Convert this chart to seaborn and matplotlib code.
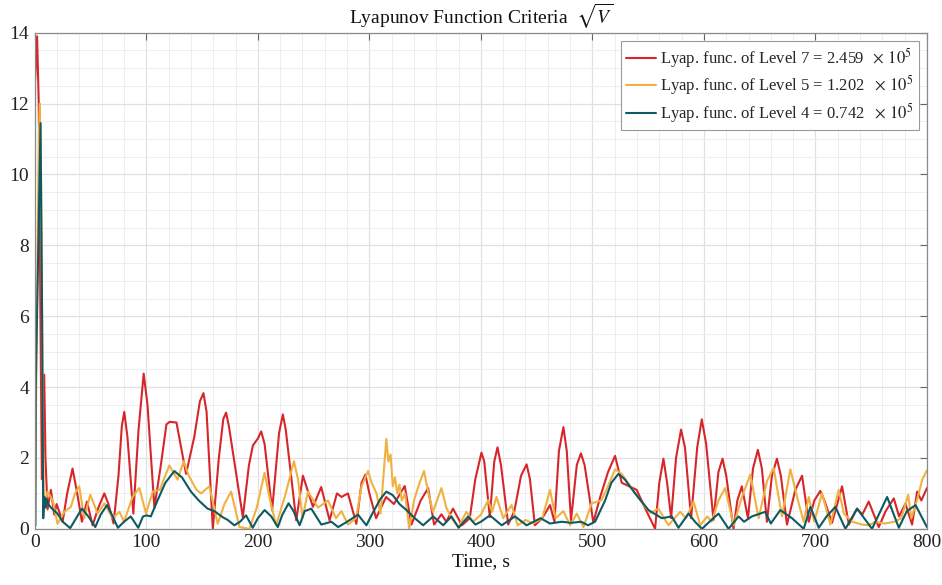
import numpy as np
import pandas as pd
import seaborn as sns
import matplotlib
matplotlib.use("Agg")
import matplotlib.pyplot as plt
from matplotlib.ticker import MultipleLocator

# --- series: time (s) and sqrt(V) samples ---------------------------------
red_t = [0, 2, 3.5, 5, 6.3, 7.3, 8.4, 9.5, 11.4, 14.4, 17.4, 19.5, 24.9, 29, 33.8, 38,
         42.2, 46.7, 51.8, 57, 62.3, 66, 70.6, 75, 78, 80.2, 83, 88.3, 93, 97.6, 101,
         107.2, 113, 118, 121, 127, 130, 135.6, 143, 148, 151.2, 154, 159.6, 165, 169,
         171.5, 174, 186.5, 192, 195.5, 200, 203, 206, 212.8, 219, 222.4, 225, 234.4,
         240.4, 249.4, 256.8, 264.3, 270.9, 275, 280.8, 288.3, 293, 296.4, 300, 306,
         315, 322, 331.7, 337.7, 346, 352.7, 358, 364.6, 369, 375, 383, 390, 395, 400.5,
         403, 408, 412, 414.9, 418, 424.5, 430, 436, 441, 444, 448.4, 455, 462, 466,
         470, 474, 477, 480.8, 486, 489.7, 493, 500.8, 507, 514, 520.3, 526.3, 533,
         539.7, 547, 556.2, 560, 563.7, 567, 570.6, 575, 579.5, 583, 588.5, 594, 598.1,
         602, 608.6, 613, 616.7, 620, 626.5, 630, 634, 639.5, 644, 648.4, 652, 656.5,
         661, 665.5, 669, 674.5, 682, 688, 694, 699, 704.4, 708, 714.9, 723.9, 730,
         737.3, 742, 747.8, 756.8, 763, 770.3, 775, 780.7, 786.7, 791.2, 795, 800]
red_v = [12.5, 13.9, 12.0, 6.0, 1.4, 1.8, 4.35, 2.0, 0.55, 1.1, 0.4, 0.7, 0.2, 1.0, 1.7, 1.0,
         0.2, 0.77, 0.1, 0.6, 1.0, 0.7, 0.15, 1.5, 2.9, 3.3, 2.6, 0.43, 2.8, 4.38, 3.5,
         0.6, 1.8, 2.95, 3.02, 3.0, 2.5, 1.55, 2.6, 3.6, 3.83, 3.3, 0.0, 2.0, 3.1,
         3.28, 2.9, 0.33, 1.8, 2.35, 2.55, 2.75, 2.4, 0.53, 2.7, 3.23, 2.8, 0.24,
         1.5, 0.62, 1.18, 0.24, 1.0, 0.9, 1.0, 0.14, 1.3, 1.53, 1.0, 0.3,
         0.9, 0.7, 1.21, 0.12, 0.8, 1.15, 0.12, 0.41, 0.2, 0.57, 0.1, 0.3, 1.4, 2.15,
         1.9, 0.33, 1.9, 2.3, 1.8, 0.12, 0.5, 1.5, 1.82, 1.4, 0.1, 0.3, 0.67, 0.2,
         2.2, 2.87, 2.2, 0.24, 1.8, 2.13, 1.8, 0.18, 0.9, 1.6, 2.06, 1.3, 1.2,
         1.1, 0.6, 0.0, 1.3, 1.98, 1.3, 0.3, 2.0, 2.8, 2.3, 0.3, 2.3, 3.09,
         2.4, 0.25, 1.6, 1.98, 1.5, 0.0, 0.8, 1.2, 0.3, 1.7, 2.23, 1.7, 0.2,
         1.5, 1.98, 1.5, 0.12, 1.1, 1.5, 0.2, 0.8, 1.07, 0.8, 0.17, 1.2, 0.12,
         0.57, 0.4, 0.77, 0.05, 0.5, 0.86, 0.35, 0.71, 0.12, 1.05, 0.8, 1.15]

yel_t = [0, 1.5, 3.5, 4.5, 5.5, 7, 8, 10, 11.3, 16, 20.3, 26.3, 32.3, 36, 39.8, 44.3, 49.7,
         56.3, 62.3, 69.8, 75.8, 80, 87.7, 93.7, 99.7, 105.7, 112, 120.6, 128, 133.5, 138,
         145, 149, 156.5, 164, 170, 176, 183.5, 192.5, 199, 206, 211, 216.4, 225, 232.3,
         236, 240, 244.9, 253.9, 262.9, 270, 275, 280.8, 288, 293, 298.8, 302, 306.4,
         310, 315.2, 317, 319, 321, 323, 325, 327, 329, 332, 335.7, 340, 345, 349, 353,
         357, 364.6, 369, 373.6, 380, 387, 393, 400, 406.5, 410, 414, 420, 427.5, 433,
         440, 447, 455, 462, 467, 474, 480, 486, 492, 499.3, 508, 514, 520.3, 526.3,
         538.3, 547.3, 552, 559.2, 568.2, 578.7, 584, 590.7, 596.7, 603, 607, 613, 619.1,
         626.6, 634.1, 641.6, 649.1, 656.5, 662.5, 670, 677.5, 685, 689.5, 694, 699,
         705.9, 713.4, 720.9, 725.5, 733, 742, 748, 753.9, 762, 771, 777, 783.2, 786,
         791, 795.8, 800]
yel_v = [0.05, 5.0, 11.0, 12.0, 10.0, 4.0, 1.0, 0.8, 1.05, 0.81, 0.14, 0.48, 0.62, 1.0, 1.2, 0.3, 0.96,
         0.43, 0.72, 0.3, 0.48, 0.2, 0.91, 1.15, 0.43, 1.05, 1.1, 1.79, 1.39, 1.91, 1.5,
         1.1, 1.0, 1.2, 0.14, 0.7, 1.05, 0.05, 0.0, 0.6, 1.58, 0.8, 0.1, 1.0, 1.91,
         1.4, 0.3, 1.05, 0.6, 0.8, 0.3, 0.5, 0.12, 0.3, 1.2, 1.63, 1.3, 1.0,
         0.43, 2.54, 1.9, 2.1, 1.2, 1.45, 1.0, 1.25, 0.8, 1.0, 0.0, 0.8, 1.3, 1.63, 1.0,
         0.48, 1.15, 0.6, 0.3, 0.05, 0.48, 0.2, 0.4, 0.81, 0.48, 0.9, 0.3, 0.67, 0.1,
         0.25, 0.15, 0.3, 1.1, 0.3, 0.5, 0.1, 0.43, 0.05, 0.72, 0.8, 1.2, 1.68, 1.55,
         1.0, 0.62, 0.45, 0.57, 0.1, 0.48, 0.3, 0.77, 0.1, 0.35, 0.2, 0.8, 1.15,
         0.1, 0.9, 1.53, 0.3, 1.34, 1.72, 0.35, 1.68, 0.72, 0.2, 0.9, 0.2,
         1.0, 0.12, 1.1, 0.43, 0.2, 0.12, 0.1, 0.2, 0.15, 0.2, 0.3, 0.96, 0.3,
         0.8, 1.39, 1.65]

teal_t = [0, 0.5, 0.8, 5.1, 6.5, 7.5, 8.5, 9.5, 10.5, 12, 14.4, 20.3, 25, 31.7, 37, 42.2, 48,
          54.2, 59, 64.7, 69, 74.5, 80, 86, 92.7, 97, 100.2, 104, 110, 117, 125.1, 132,
          140, 147, 154.9, 161, 168.4, 173, 178.9, 184, 189.4, 195.4, 200, 206, 212,
          217.9, 222, 227.5, 232, 237.4, 242, 247.9, 256.9, 265.9, 272, 280, 289.8,
          297.3, 303, 310, 315.2, 321, 327, 333.2, 340.7, 348.2, 357.2, 366.2, 373.6,
          380, 388.6, 395, 400, 408.1, 418.6, 430.6, 441, 453.5, 462, 472.4, 481, 490,
          496, 502.4, 511.4, 517, 523.3, 529, 538.3, 550.3, 562.2, 571.2, 577.2, 586.2,
          592, 598.2, 605, 613.1, 622.1, 631.1, 636, 643, 655, 660, 668.5, 679, 689.5,
          695.5, 703, 710, 717.9, 726.9, 737.4, 750.8, 764.3, 774.8, 782, 789.8, 800]
teal_v = [0.05, 0.1, 4.0, 11.45, 6.0, 0.3, 0.9, 0.6, 0.85, 0.7, 0.6, 0.43, 0.2, 0.02, 0.3, 0.57, 0.35,
          0.05, 0.4, 0.67, 0.4, 0.03, 0.2, 0.35, 0.03, 0.35, 0.38, 0.35, 0.8, 1.3, 1.63, 1.45,
          1.05, 0.8, 0.57, 0.5, 0.33, 0.25, 0.1, 0.2, 0.38, 0.03, 0.3, 0.53, 0.35,
          0.05, 0.4, 0.72, 0.5, 0.1, 0.5, 0.57, 0.12, 0.2, 0.05, 0.2, 0.4,
          0.1, 0.45, 0.85, 1.05, 0.95, 0.7, 0.53, 0.3, 0.1, 0.35, 0.1, 0.35,
          0.03, 0.35, 0.12, 0.2, 0.38, 0.1, 0.35, 0.1, 0.3, 0.15, 0.2, 0.17, 0.2,
          0.1, 0.2, 0.8, 1.3, 1.55, 1.4, 1.0, 0.53, 0.3, 0.35, 0.03, 0.43,
          0.2, 0.0, 0.2, 0.43, 0.0, 0.35, 0.2, 0.35, 0.48, 0.15, 0.53, 0.3, 0.0,
          0.62, 0.03, 0.35, 0.62, 0.0, 0.57, 0.0, 0.9, 0.03, 0.5, 0.67, 0.05]

levels = [7, 5, 4]
costs = [2.459, 1.202, 0.742]
colors = ["#d7262b", "#f0b143", "#0e5a62"]

sns.set_theme(style="whitegrid")
plt.rcParams["font.family"] = ["Liberation Serif", "DejaVu Serif"]
plt.rcParams["mathtext.fontset"] = "stix"

fig = plt.figure(figsize=(9.42, 5.85), dpi=100)
ax = fig.add_axes([0.037, 0.096, 0.947, 0.848])
ax.set_facecolor("white")

series = [(red_t, red_v), (yel_t, yel_v), (teal_t, teal_v)]
for (t, v), lvl, c, col in zip(series, levels, costs, colors):
    df = pd.DataFrame({"t": t, "v": v})
    sns.lineplot(data=df, x="t", y="v", ax=ax, color=col, linewidth=1.5,
                 estimator=None, sort=False,
                 label=rf"Lyap. func. of Level {lvl} = {c:.3f}$\ \ \times\,10^5$")
for ln in ax.get_lines():
    ln.set_solid_joinstyle("round")

ax.set_xlim(0, 800)
ax.set_ylim(0, 14)
ax.xaxis.set_major_locator(MultipleLocator(100))
ax.xaxis.set_minor_locator(MultipleLocator(20))
ax.yaxis.set_major_locator(MultipleLocator(2))
ax.yaxis.set_minor_locator(MultipleLocator(0.5))
ax.grid(which="major", color="#e0e0e0", linewidth=0.9)
ax.grid(which="minor", color="#eeeeee", linewidth=0.7)
ax.set_axisbelow(True)
ax.tick_params(which="major", direction="in", length=5, width=0.8, color="#666666",
               top=True, right=True, labelsize=14, labelcolor="#222222", pad=4)
ax.tick_params(which="minor", length=0)
for s in ax.spines.values():
    s.set_color("#8a8a8a")
    s.set_linewidth(0.9)

ax.set_xlabel("Time, s", fontsize=14, labelpad=1, color="#111111")
ax.set_ylabel("")
ax.set_title(r"Lyapunov Function Criteria  $\sqrt{V}$", fontsize=14, pad=6, color="#111111")

leg = ax.legend(loc="upper right", fontsize=12, frameon=True, fancybox=False,
                handlelength=1.8, handletextpad=0.25, borderpad=0.3, labelspacing=0.2,
                borderaxespad=0.5)
leg.get_frame().set_edgecolor("#9a9a9a")
leg.get_frame().set_linewidth(0.8)
leg.get_frame().set_facecolor("white")
leg.get_frame().set_alpha(1)

fig.savefig("out.png", dpi=100)
